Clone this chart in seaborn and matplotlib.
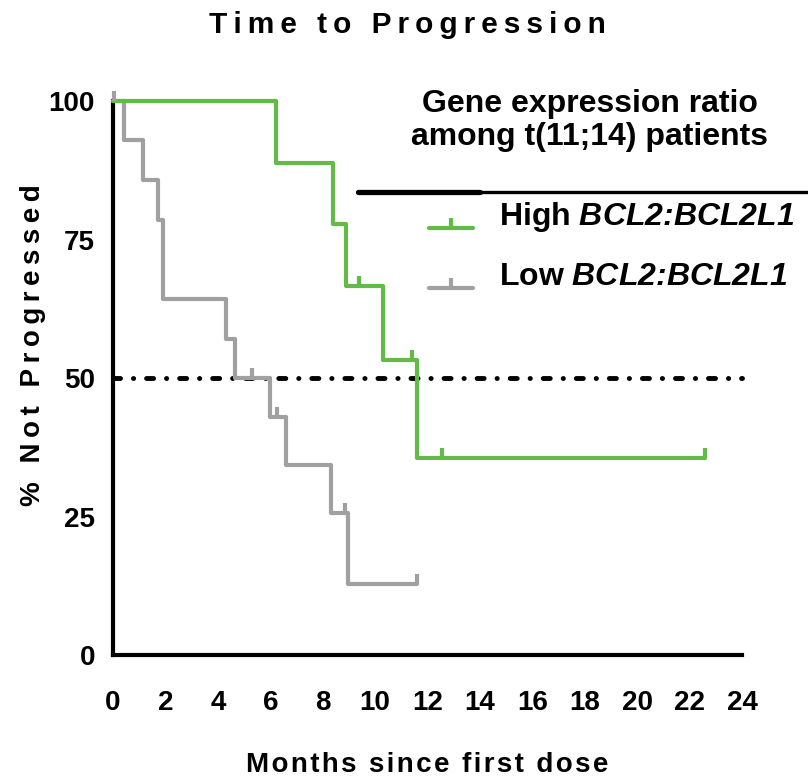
import matplotlib
matplotlib.use("Agg")
import numpy as np
import pandas as pd
import seaborn as sns
import matplotlib.pyplot as plt
from matplotlib.lines import Line2D
from matplotlib.legend_handler import HandlerLine2D

# Kaplan-Meier steps
high_time = [0, 6.2, 8.4, 8.9, 10.3, 11.6, 22.6]
high_surv = [100, 88.9, 77.8, 66.7, 53.3, 35.6, 35.6]
high_cens_time = [9.4, 11.4, 12.55, 22.6]
high_cens_surv = [66.7, 53.3, 35.6, 35.6]

low_time = [0, 0.4, 1.15, 1.7, 1.9, 4.3, 4.65, 6.0, 6.6, 8.3, 8.97, 11.6]
low_surv = [100, 92.9, 85.7, 78.6, 64.3, 57.1, 50.0, 42.9, 34.3, 25.7, 12.9, 12.9]
low_cens_time = [0.05, 5.3, 6.25, 8.85, 11.6]
low_cens_surv = [100, 50.0, 42.9, 25.7, 12.9]

median_line = 50
x_ticks = list(range(0, 25, 2))
y_ticks = [0, 25, 50, 75, 100]
groups = ["Low", "High"]
gene = r"$\mathbfit{BCL2\hspace{-0.2}:\hspace{-0.2}BCL2L1}$"
labels = {"High": "High " + gene, "Low": "Low " + gene}
colors = {"High": "#62bb46", "Low": "#a0a0a0"}

df = pd.concat([
    pd.DataFrame({"time": low_time, "surv": low_surv, "group": "Low"}),
    pd.DataFrame({"time": high_time, "surv": high_surv, "group": "High"}),
])

sns.set_style("white")
plt.rcParams["font.family"] = ["Liberation Sans", "DejaVu Sans"]
plt.rcParams["mathtext.fontset"] = "custom"
plt.rcParams["mathtext.bfit"] = "Liberation Sans:bold:italic"
plt.rcParams["mathtext.rm"] = "Liberation Sans:bold"
for k in ["text.color", "axes.labelcolor", "xtick.color", "ytick.color"]:
    plt.rcParams[k] = "black"


def spaced(s, sp="\u200a"):
    return sp.join(s)


class DropHandler(HandlerLine2D):
    # put the legend line on the text baseline, like the original
    def create_artists(self, legend, orig_handle, xdescent, ydescent,
                       width, height, fontsize, trans):
        return super().create_artists(legend, orig_handle, xdescent,
                                      ydescent + 20, width, height,
                                      fontsize, trans)


fig = plt.figure(figsize=(8.08, 7.82), dpi=100)
ax = fig.add_axes([0.1399, 0.1624, 0.7784, 0.7084])

ax.axhline(median_line, color="black", lw=3.5, zorder=1,
           linestyle=(0, (1.45, 2.65, 0.05, 2.65)), dash_capstyle="round")

sns.lineplot(data=df, x="time", y="surv", hue="group", hue_order=groups,
             palette=colors, drawstyle="steps-post", estimator=None,
             sort=False, legend=False, lw=3, ax=ax, zorder=3)

tick = [(0, 0), (0, 1)]
ax.plot(low_cens_time, low_cens_surv, ls="none", marker=tick, ms=14,
        mew=3, color=colors["Low"], zorder=3)
ax.plot(high_cens_time, high_cens_surv, ls="none", marker=tick, ms=14,
        mew=3, color=colors["High"], zorder=4)
for ln in ax.lines:
    ln.set_clip_on(False)

ax.set_xlim(0, 24)
ax.set_ylim(0, 100)
ax.set_xticks(x_ticks)
ax.set_yticks(y_ticks)
tfont = dict(weight="bold", size=20)
ax.set_xticklabels([str(t) for t in x_ticks], fontdict=tfont)
ax.set_yticklabels([str(t) for t in y_ticks], fontdict=tfont)
ax.tick_params(axis="x", length=11, width=3, pad=14, direction="out")
ax.tick_params(axis="y", length=8, width=3, pad=5, direction="out")
for s in ["top", "right"]:
    ax.spines[s].set_visible(False)
for s in ["left", "bottom"]:
    ax.spines[s].set_linewidth(3)
    ax.spines[s].set_color("black")
ax.set_xlabel("")
ax.set_ylabel("")

fig.text(0.504, 0.968, spaced("Time to Progression", "\u2009"), ha="center",
         va="center", fontsize=21.5, fontweight="bold")
fig.text(0.529, 0.022, spaced("Months since first dose", "\u200a"), ha="center",
         va="center", fontsize=20, fontweight="bold")
fig.text(0.041, 0.559, spaced("% Not Progressed", "\u2009"), ha="center",
         va="center", rotation=90, fontsize=20, fontweight="bold")

# legend block
fig.text(0.730, 0.846, "Gene expression ratio\namong t(11;14) patients",
         ha="center", va="center", fontsize=23, fontweight="bold",
         linespacing=1.15)
fig.add_artist(Line2D([358 / 808, 480 / 808], [1 - 192 / 782] * 2,
                      color="black", lw=3.8, transform=fig.transFigure))
fig.add_artist(Line2D([480 / 808, 1.0], [1 - 192 / 782] * 2,
                      color="black", lw=2.4, transform=fig.transFigure))
handles = [Line2D([], [], color=colors[g], lw=3, marker=tick, ms=14, mew=3)
           for g in ["High", "Low"]]
ax.legend(handles, [labels["High"], labels["Low"]], frameon=False,
          loc="upper left", bbox_to_anchor=(0.495, 0.781),
          bbox_transform=fig.transFigure, handlelength=1.4,
          handletextpad=0.8, labelspacing=0.875, numpoints=1,
          prop=dict(weight="bold", size=23),
          handler_map={Line2D: DropHandler()})

fig.savefig("out.png", dpi=100)
